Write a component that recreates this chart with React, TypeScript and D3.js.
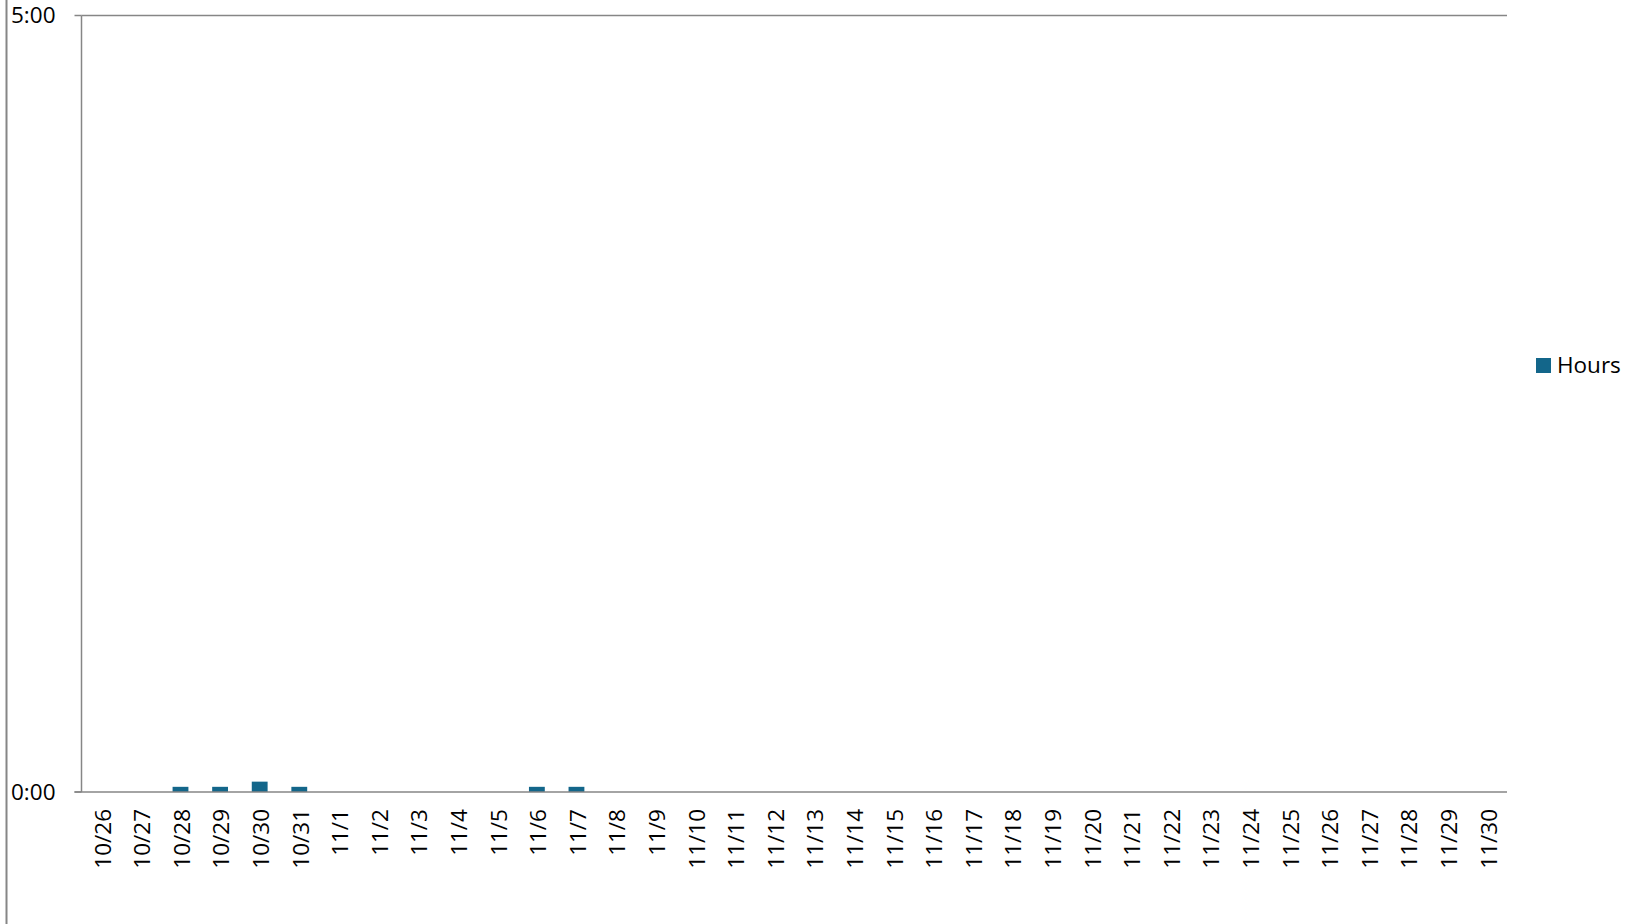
import { useEffect, useRef } from "react";
import * as d3 from "d3";

// dates shown on the x axis
const days = [
  "10/26", "10/27", "10/28", "10/29", "10/30", "10/31",
  "11/1", "11/2", "11/3", "11/4", "11/5", "11/6", "11/7", "11/8", "11/9", "11/10",
  "11/11", "11/12", "11/13", "11/14", "11/15", "11/16", "11/17", "11/18", "11/19", "11/20",
  "11/21", "11/22", "11/23", "11/24", "11/25", "11/26", "11/27", "11/28", "11/29", "11/30",
];

// minutes worked per day
const minutes = [
  0, 0, 2, 2, 4, 2,
  0, 0, 0, 0, 0, 2, 2, 0, 0, 0,
  0, 0, 0, 0, 0, 0, 0, 0, 0, 0,
  0, 0, 0, 0, 0, 0, 0, 0, 0, 0,
];

const yTicks = [0, 300];
const seriesName = "Hours";

const W = 1638;
const H = 924;
const font = "'Open Sans', 'Noto Sans', sans-serif";
const barColor = "#13668A";
const axisColor = "#868686";

const fmtTime = (m: number) => `${Math.floor(m / 60)}:${String(m % 60).padStart(2, "0")}`;

export default function App() {
  const ref = useRef<SVGSVGElement>(null);

  useEffect(() => {
    const svg = d3.select(ref.current);
    svg.selectAll("*").remove();

    const left = 81.5, right = 1507, top = 15.5, bottom = 792;

    const x = d3.scaleBand<string>().domain(days).range([left, right]).paddingInner(0.6).paddingOuter(0.3);
    const xc = d3.scaleBand<string>().domain(days).range([left, right]);
    const y = d3.scaleLinear().domain([0, 300]).range([bottom, top]);

    svg.append("rect").attr("width", W).attr("height", H).attr("fill", "#fff");

    // frame edge on the left
    svg.append("line")
      .attr("x1", 6.5).attr("x2", 6.5).attr("y1", 0).attr("y2", H)
      .attr("stroke", axisColor).attr("stroke-width", 2);

    // top gridline at max
    svg.append("line")
      .attr("x1", left).attr("x2", right).attr("y1", y(300)).attr("y2", y(300))
      .attr("stroke", axisColor).attr("stroke-width", 1.5);

    // bars
    svg.append("g")
      .selectAll("rect")
      .data(days.map((d, i) => ({ d, v: minutes[i] })).filter((e) => e.v > 0))
      .join("rect")
      .attr("x", (e) => x(e.d)!)
      .attr("width", x.bandwidth())
      .attr("y", (e) => y(e.v))
      .attr("height", (e) => bottom - y(e.v))
      .attr("fill", barColor);

    // y axis
    const ya = svg.append("g");
    ya.append("line")
      .attr("x1", left).attr("x2", left).attr("y1", top).attr("y2", bottom)
      .attr("stroke", axisColor).attr("stroke-width", 1.5);
    yTicks.forEach((t) => {
      ya.append("line")
        .attr("x1", left - 7).attr("x2", left).attr("y1", y(t)).attr("y2", y(t))
        .attr("stroke", axisColor).attr("stroke-width", 1.5);
      ya.append("text")
        .attr("x", 55.5).attr("y", y(t)).attr("dy", "0.35em")
        .attr("text-anchor", "end")
        .attr("font-family", font).attr("font-size", 22.5).attr("fill", "#000")
        .text(fmtTime(t));
    });

    // x axis
    svg.append("line")
      .attr("x1", left - 7).attr("x2", right).attr("y1", bottom).attr("y2", bottom)
      .attr("stroke", axisColor).attr("stroke-width", 1.5);
    svg.append("g")
      .selectAll("text")
      .data(days)
      .join("text")
      .attr("transform", (d) => `translate(${xc(d)! + xc.bandwidth() / 2 + 1.5},${bottom + 17}) rotate(-90)`)
      .attr("dy", "0.35em")
      .attr("text-anchor", "end")
      .attr("font-family", font).attr("font-size", 22.5).attr("fill", "#000")
      .text((d) => d);

    // legend
    const lg = svg.append("g").attr("transform", "translate(1536,365.5)");
    lg.append("rect").attr("x", 0).attr("y", -7.5).attr("width", 15).attr("height", 15).attr("fill", barColor);
    lg.append("text")
      .attr("x", 21).attr("y", 0).attr("dy", "0.35em")
      .attr("font-family", font).attr("font-size", 22.5).attr("fill", "#000")
      .text(seriesName);
  }, []);

  return (
    <svg
      ref={ref}
      width={W}
      height={H}
      style={{ position: "absolute", left: 0, top: 0, display: "block" }}
    />
  );
}
